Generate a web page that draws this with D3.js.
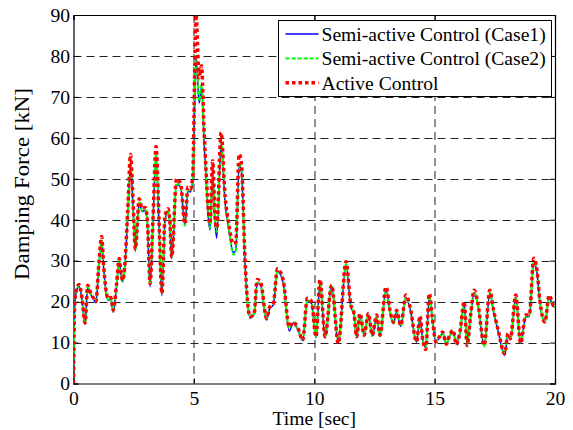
<!DOCTYPE html>
<html>
<head>
<meta charset="utf-8">
<script src="https://cdn.jsdelivr.net/npm/d3@7"></script>
<style>
  body { margin: 0; background: #fff; }
  text { font-family: "Liberation Serif", "Times New Roman", serif; fill: #000; }
</style>
</head>
<body>
<div id="chart"></div>
<script>
// time samples [sec]
var time = [0, 0.05, 0.12, 0.23, 0.35, 0.48, 0.59, 0.72, 0.85, 0.93,
  1.05, 1.17, 1.25, 1.35, 1.45, 1.55, 1.65, 1.79, 1.9, 1.97,
  2.04, 2.12, 2.25, 2.37, 2.47, 2.57, 2.73, 2.85, 2.97, 3.07,
  3.18, 3.3, 3.43, 3.55, 3.67, 3.8, 3.92, 4.0, 4.08, 4.28,
  4.45, 4.63, 4.75, 4.85, 4.95, 5.09, 5.22, 5.32, 5.42, 5.52,
  5.6, 5.67, 5.78, 5.88, 5.95, 6.13, 6.3, 6.45, 6.64, 6.74,
  6.88, 6.98, 7.12, 7.33, 7.5, 7.63, 7.77, 8.02, 8.15, 8.3,
  8.47, 8.71, 8.96, 9.13, 9.33, 9.52, 9.71, 9.89, 10.07, 10.24,
  10.45, 10.72, 11.0, 11.32, 11.51, 11.65, 11.76, 11.9, 12.07, 12.25,
  12.41, 12.59, 12.73, 12.98, 13.17, 13.29, 13.42, 13.59, 13.81, 13.98,
  14.25, 14.39, 14.5, 14.63, 14.78, 14.9, 15.05, 15.2, 15.33, 15.49,
  15.62, 15.77, 15.9, 16.05, 16.23, 16.35, 16.5, 16.64, 16.8, 17.06,
  17.29, 17.45, 17.64, 17.91, 18.05, 18.15, 18.37, 18.57, 18.79, 18.93,
  19.12, 19.25, 19.37, 19.58, 19.76, 19.92, 20];

// damping force [kN], semi-active case 1
var case1 = [0, 19, 22.5, 23.8, 20.6, 14.5, 23.5, 21.7, 20.4, 19.8,
  28.3, 34.8, 28.4, 22.3, 20.3, 20.6, 17.4, 23.8, 29.8, 26.8,
  24.8, 27.4, 40.6, 53.5, 43.5, 32.3, 44.2, 42, 42.3, 39,
  23.7, 39.2, 55.5, 39, 21.5, 39.7, 42, 39, 30.5, 48.6,
  48, 38.8, 47, 46.8, 49.2, 79.5, 68.5, 72.5, 59.5, 48.5,
  40.5, 37.5, 51.5, 39, 35.5, 58.5, 44, 37.6, 32, 32.5,
  53.5, 51.5, 29.8, 16, 16.8, 24.5, 24, 15.5, 18.3, 19.2,
  27.4, 24.6, 12.8, 14.8, 13, 10.5, 20.2, 19.5, 11.2, 24.6,
  11.1, 23.6, 9.9, 29, 19, 16.8, 11.3, 16.7, 11.7, 16.7,
  11.5, 16.3, 11.6, 22.9, 16.8, 14.6, 17.5, 13.9, 20.9, 18.3,
  10.1, 16, 10.9, 8.8, 21.2, 15.9, 10.2, 11.2, 12.2, 9.6,
  11.5, 12.6, 9.6, 12.3, 19.4, 9.4, 16.6, 22.1, 19.1, 9.2,
  22.1, 17.5, 12.7, 6.9, 11.9, 10.7, 21, 9.8, 16.3, 16.3,
  29.6, 27.1, 19.9, 14.9, 21, 18.9, 18.6];

// damping force [kN], semi-active case 2
var case2 = [0, 19, 22.5, 24, 20.8, 14.6, 23.6, 21.8, 20.5, 20,
  28.5, 35, 28.6, 22.5, 20.5, 20.8, 17.6, 24, 30, 27,
  25, 27.6, 41, 54, 44, 32.5, 44.5, 42.2, 42.6, 39.3,
  24, 39.5, 56, 39.3, 22, 40, 42.2, 39.3, 31, 49,
  48.2, 38.5, 47.3, 47, 49.5, 80.5, 69, 73, 60, 49,
  41, 38, 52, 39.5, 37, 59, 44.5, 38, 31.5, 32,
  54, 52, 30, 16.5, 17, 24.8, 24.2, 15.8, 18.5, 19.3,
  27.6, 24.8, 13.5, 15, 13.2, 10.8, 20.3, 19.6, 11.5, 24.8,
  11.3, 24.2, 10.2, 29.2, 19.2, 16.9, 11.6, 16.8, 12, 16.8,
  11.6, 16.4, 11.5, 23, 16.9, 14.7, 17.6, 14, 21, 18.4,
  10.5, 16.2, 10.8, 9, 21.4, 16, 10.4, 11.3, 12.3, 9.8,
  11.6, 12.7, 9.7, 12.4, 19.5, 9.6, 16.7, 22.3, 19.2, 9,
  22.3, 17.6, 12.8, 7.5, 12, 10.8, 21.1, 10, 16.5, 16.4,
  29.8, 27.3, 20, 15.2, 21.1, 19, 18.7];

// damping force [kN], active control
var active = [0, 19.5, 22.8, 24.2, 21, 14.8, 24, 22, 20.7, 20,
  29, 35.9, 29, 22.8, 20.7, 21, 17.9, 24.4, 30.5, 27.2,
  25.2, 28, 42, 55.9, 45, 32.9, 45.1, 42.7, 43, 39.8,
  24.4, 40, 57.9, 40, 22, 40.7, 42.7, 39.8, 30.9, 50,
  48.8, 39, 48, 47.5, 50.3, 90, 74.7, 77.6, 62.5, 50.3,
  42.2, 39, 54.4, 40.6, 38, 61.3, 45.5, 39, 34.1, 34.5,
  56, 53.5, 30.8, 16.3, 17.1, 25.4, 24.8, 15.9, 18.7, 19.5,
  28, 25.2, 13.8, 15, 13.4, 10.6, 20.8, 20, 11.4, 25.4,
  11.4, 24, 9.8, 29.8, 19.5, 17.1, 11.4, 17.1, 11.8, 17.1,
  11.8, 16.7, 11.8, 23.6, 17.1, 15, 17.9, 14.2, 21.6, 18.7,
  10.2, 16.5, 11, 8.3, 22, 16.3, 10.2, 11.4, 12.6, 9.6,
  11.8, 13, 9.5, 12.6, 20, 9.3, 17, 22.8, 19.5, 9.3,
  22.8, 17.9, 13, 7.3, 12.2, 11, 21.6, 9.8, 16.7, 16.7,
  30.6, 27.8, 20.4, 15, 21.6, 19.2, 18.9];

var seriesNames = ["Semi-active Control (Case1)", "Semi-active Control (Case2)", "Active Control"];
var xTicks = [0, 5, 10, 15, 20];
var yTicks = [0, 10, 20, 30, 40, 50, 60, 70, 80, 90];

var svgWidth = 573;
var svgHeight = 430;
var fontSize = "19.6px";

var margin = { top: 15, bottom: 46.5, right: 18, left: 73.5 };
var width = svgWidth - margin.left - margin.right;
var height = svgHeight - margin.top - margin.bottom;

var svg = d3.select("#chart")
  .append("svg")
  .attr("width", svgWidth)
  .attr("height", svgHeight);

var chartGroup = svg.append("g")
  .attr("transform", `translate(${margin.left}, ${margin.top})`);

var xScale = d3.scaleLinear().domain([0, 20]).range([0, width]);
var yScale = d3.scaleLinear().domain([0, 90]).range([height, 0]);

// dashed grid
chartGroup.append("g")
  .selectAll("line")
  .data(xTicks.slice(1, -1))
  .enter()
  .append("line")
  .attr("x1", d => Math.round(xScale(d)) + 0.5)
  .attr("x2", d => Math.round(xScale(d)) + 0.5)
  .attr("y1", 0)
  .attr("y2", height)
  .attr("stroke", "#222")
  .attr("stroke-dasharray", "8,5");

chartGroup.append("g")
  .selectAll("line")
  .data(yTicks.slice(1, -1))
  .enter()
  .append("line")
  .attr("y1", d => Math.round(yScale(d)) + 0.5)
  .attr("y2", d => Math.round(yScale(d)) + 0.5)
  .attr("x1", 0)
  .attr("x2", width)
  .attr("stroke", "#222")
  .attr("stroke-dasharray", "8,5");

// axes with inward ticks, box on all four sides
var bottomAxis = d3.axisBottom(xScale).tickValues(xTicks).tickSize(-5).tickPadding(7.6).tickFormat(d3.format("d"));
var topAxis = d3.axisTop(xScale).tickValues(xTicks).tickSize(-5).tickFormat("");
var leftAxis = d3.axisLeft(yScale).tickValues(yTicks).tickSize(-5).tickPadding(3.5).tickFormat(d3.format("d"));
var rightAxis = d3.axisRight(yScale).tickValues(yTicks).tickSize(-5).tickFormat("");

var axes = [
  chartGroup.append("g").attr("transform", `translate(0, ${height})`).call(bottomAxis),
  chartGroup.append("g").call(topAxis),
  chartGroup.append("g").call(leftAxis),
  chartGroup.append("g").attr("transform", `translate(${width}, 0)`).call(rightAxis)
];
axes.forEach(function(a) {
  a.select(".domain").attr("stroke", "#000").attr("stroke-width", 1.2);
  a.selectAll(".tick line").attr("stroke", "#000");
  a.selectAll("text").attr("font-size", fontSize).attr("font-family", "Liberation Serif");
});

// clip lines to the plot area
svg.append("defs").append("clipPath")
  .attr("id", "plotClip")
  .append("rect")
  .attr("width", width)
  .attr("height", height);

var styles = [
  { color: "#0000ff", width: 1.5, dash: null },
  { color: "#00ff00", width: 2, dash: "4,2" },
  { color: "#ff0000", width: 3.5, dash: "3.5,3" }
];
var allSeries = [case1, case2, active];

var line = d3.line()
  .x(d => xScale(d[0]))
  .y(d => yScale(d[1]))
  .curve(d3.curveMonotoneX);

var linesGroup = chartGroup.append("g").attr("clip-path", "url(#plotClip)");
allSeries.forEach(function(values, i) {
  linesGroup.append("path")
    .datum(time.map((t, j) => [t, values[j]]))
    .attr("d", line)
    .attr("fill", "none")
    .attr("stroke", styles[i].color)
    .attr("stroke-width", styles[i].width)
    .attr("stroke-dasharray", styles[i].dash)
    .attr("stroke-linejoin", "round");
});

// legend
var legend = svg.append("g").attr("transform", "translate(278.5, 20.5)");
legend.append("rect")
  .attr("width", 273)
  .attr("height", 76)
  .attr("fill", "#fff")
  .attr("stroke", "#000");

seriesNames.forEach(function(name, i) {
  var y = 13.5 + i * 24.4;
  legend.append("line")
    .attr("x1", 7).attr("x2", 40)
    .attr("y1", y).attr("y2", y)
    .attr("stroke", styles[i].color)
    .attr("stroke-width", styles[i].width)
    .attr("stroke-dasharray", styles[i].dash);
  legend.append("text")
    .attr("x", 43)
    .attr("y", y + 7)
    .attr("font-size", fontSize)
    .text(name);
});

// axis labels
chartGroup.append("text")
  .attr("x", width / 2)
  .attr("y", height + 41)
  .attr("text-anchor", "middle")
  .attr("font-size", fontSize)
  .text("Time [sec]");

chartGroup.append("text")
  .attr("transform", "rotate(-90)")
  .attr("x", -169)
  .attr("y", -44.5)
  .attr("text-anchor", "middle")
  .attr("font-size", "21px")
  .attr("textLength", 192)
  .attr("lengthAdjust", "spacingAndGlyphs")
  .text("Damping Force [kN]");
</script>
</body>
</html>
